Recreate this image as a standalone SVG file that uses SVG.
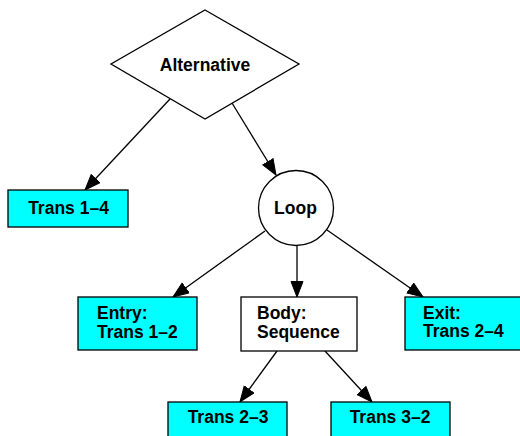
<svg xmlns="http://www.w3.org/2000/svg" width="520" height="436" viewBox="0 0 520 436">
<defs>
<style>
.shape{stroke:#000;stroke-width:1.3}
.leaf{fill:#00ffff}
.plain{fill:#fff}
.edge{stroke:#000;stroke-width:1.3;fill:none;marker-end:url(#arr)}
text{font-family:"Liberation Sans",Arial,Helvetica,sans-serif;font-weight:bold;font-size:17.5px;fill:#000}
.c{text-anchor:middle}
</style>
<marker id="arr" markerUnits="userSpaceOnUse" markerWidth="17" markerHeight="14" refX="16" refY="6.5" orient="auto" viewBox="0 0 17 14">
<path d="M0.5,0.5 L16,6.5 L0.5,12.5 z" fill="#000" stroke="#000" stroke-width="1"/>
</marker>
</defs>
<rect width="520" height="436" fill="#fff"/>
<g id="connectors">
<line class="edge" x1="170" y1="99" x2="85" y2="190"/>
<line class="edge" x1="232" y1="103" x2="276" y2="175"/>
<line class="edge" x1="265" y1="231" x2="173" y2="297"/>
<line class="edge" x1="297" y1="245" x2="297" y2="297"/>
<line class="edge" x1="327" y1="230" x2="423" y2="297"/>
<line class="edge" x1="277" y1="351" x2="240" y2="402"/>
<line class="edge" x1="325" y1="351" x2="372" y2="402"/>
</g>
<g id="alternative">
<polygon class="shape plain" points="205,10 299,64 205,119 111,64"/>
<text class="c" x="205" y="70.5">Alternative</text>
</g>
<g id="trans14">
<rect class="shape leaf" x="8" y="190" width="120" height="37"/>
<text class="c" x="68.5" y="213.5">Trans 1–4</text>
</g>
<g id="loop">
<circle class="shape plain" cx="296" cy="208" r="37.5"/>
<text class="c" x="295.5" y="213.5">Loop</text>
</g>
<g id="entry">
<rect class="shape leaf" x="78" y="297" width="119" height="53"/>
<text x="97" y="319">Entry:</text>
<text x="97" y="337.5">Trans 1–2</text>
</g>
<g id="body">
<rect class="shape plain" x="241" y="297" width="116" height="54"/>
<text x="257" y="319">Body:</text>
<text x="257" y="337.5">Sequence</text>
</g>
<g id="exit">
<rect class="shape leaf" x="405" y="297" width="125" height="53"/>
<text x="423" y="318.5">Exit:</text>
<text x="423" y="337">Trans 2–4</text>
</g>
<g id="trans23">
<rect class="shape leaf" x="168" y="402" width="119" height="40"/>
<text class="c" x="228" y="423">Trans 2–3</text>
</g>
<g id="trans32">
<rect class="shape leaf" x="331" y="402" width="119" height="40"/>
<text class="c" x="390" y="423">Trans 3–2</text>
</g>
</svg>
